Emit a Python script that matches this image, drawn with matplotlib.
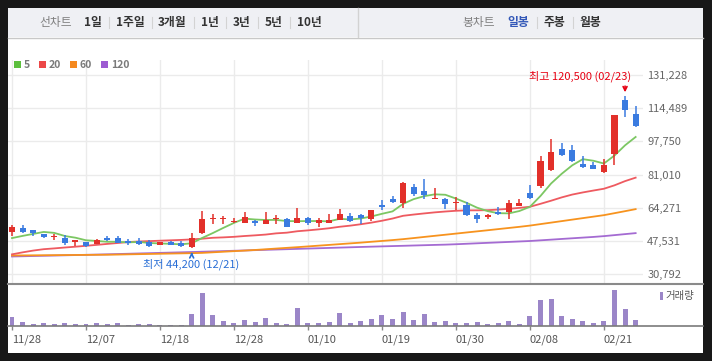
import matplotlib.pyplot as plt
import numpy as np
from matplotlib.patches import Rectangle
from matplotlib.lines import Line2D

plt.rcParams['font.family'] = ['Noto Sans CJK KR', 'DejaVu Sans']

# ── data ────────────────────────────────────────────────────────────────────
dates = ["11/28", "11/29", "11/30", "12/01", "12/04", "12/05", "12/06", "12/07",
         "12/08", "12/11", "12/12", "12/13", "12/14", "12/15", "12/18", "12/19",
         "12/20", "12/21", "12/22", "12/26", "12/27", "12/28", "01/02", "01/03",
         "01/04", "01/05", "01/08", "01/09", "01/10", "01/11", "01/12", "01/15",
         "01/16", "01/17", "01/18", "01/19", "01/22", "01/23", "01/24", "01/25",
         "01/26", "01/29", "01/30", "01/31", "02/01", "02/02", "02/05", "02/06",
         "02/07", "02/08", "02/13", "02/14", "02/15", "02/16", "02/19", "02/20",
         "02/21", "02/22", "02/23", "02/26"]

open_ = [52200, 54100, 53100, 51000, 49400, 49000, 47200, 47000, 46200, 48900,
         49000, 47700, 47400, 47200, 45500, 47000, 46700, 44700, 51700, 58400,
         58600, 57300, 56800, 57800, 56100, 58400, 58600, 56800, 59300, 56800,
         56800, 58100, 60100, 60600, 58800, 65700, 68600, 66500, 74600, 72900,
         68600, 68700, 66500, 65500, 60600, 59400, 62000, 62300, 65200, 71600,
         75300, 83300, 93900, 93400, 86400, 85900, 82500, 91400, 118600, 111600]
high = [55600, 55600, 53100, 51000, 50900, 50600, 48000, 47000, 48400, 50200,
        50000, 48400, 49000, 48000, 47000, 47500, 47400, 51700, 62700, 61300,
        60100, 59100, 62000, 58200, 62200, 60800, 59200, 64300, 59800, 59300,
        61300, 63700, 61500, 61300, 63200, 68200, 70200, 77400, 76100, 78800,
        74400, 69400, 69600, 67000, 61800, 61100, 64500, 68200, 68600, 75800,
        90400, 98900, 97100, 95900, 90200, 87500, 88700, 111100, 120500, 115600]
low = [50200, 51700, 50200, 49200, 48200, 45500, 45000, 44700, 46200, 47400,
       46400, 45700, 45700, 44600, 45500, 45300, 44700, 44200, 51200, 56100,
       56100, 56500, 56800, 55200, 56100, 55900, 54800, 56800, 55800, 54600,
       56800, 58100, 57000, 56100, 57800, 63200, 66500, 64000, 70200, 68600,
       68600, 63500, 63200, 60100, 56800, 58800, 60600, 58600, 65200, 68600,
       74400, 82900, 90200, 87200, 84200, 83900, 81700, 85900, 110200, 105200]
close = [54600, 52200, 51400, 49700, 50200, 46700, 48000, 44900, 48000, 48100,
         46700, 46400, 46200, 45200, 47000, 45700, 45200, 48900, 58600, 59300,
         58800, 57700, 59600, 56500, 58000, 59000, 54800, 59300, 56800, 58100,
         58100, 61300, 57600, 59300, 63200, 64800, 67400, 76600, 71200, 70700,
         69400, 66300, 67000, 60600, 58400, 60600, 61200, 66500, 66500, 69100,
         87900, 92600, 90900, 87900, 84700, 83900, 85600, 111100, 113600, 105700]
volume = [90, 40, 20, 30, 20, 30, 20, 20, 30, 20, 30, 10, 20, 20, 10, 10, 10, 120,
          330, 110, 50, 30, 60, 40, 80, 30, 20, 180, 30, 30, 40, 130, 30, 50, 70,
          110, 70, 140, 60, 120, 40, 50, 30, 30, 40, 20, 30, 50, 20, 100, 260, 270,
          100, 70, 50, 30, 50, 360, 170, 60]

# moving-average values before the window holds enough days
ma5_head = [49000, 50100, 51100, 52100]
ma20_head = [40800, 41800, 42700, 43400, 43800, 44250, 44660, 45110, 45570, 46060,
             46520, 46980, 47280, 47480, 47680, 47880, 48080, 48330, 48690]
ma60 = [40220, 40260, 40310, 40350, 40390, 40440, 40480, 40520, 40570, 40610,
        40690, 40800, 40900, 41000, 41100, 41200, 41300, 41400, 41540, 41830,
        42120, 42410, 42690, 43010, 43360, 43720, 44070, 44420, 44800, 45180,
        45560, 45950, 46330, 46710, 47140, 47560, 47990, 48460, 49010, 49580,
        50140, 50700, 51260, 51830, 52390, 52950, 53530, 54100, 54670, 55300,
        56050, 56800, 57550, 58310, 59060, 59810, 60560, 61560, 62570, 63600]
ma120 = [39720, 39840, 39960, 40080, 40200, 40320, 40440, 40560, 40680, 40820,
         40960, 41100, 41250, 41390, 41540, 41680, 41820, 41970, 42120, 42280,
         42440, 42600, 42760, 42920, 43080, 43240, 43400, 43560, 43720, 43880,
         44040, 44200, 44360, 44520, 44670, 44820, 44970, 45110, 45260, 45410,
         45560, 45700, 45900, 46130, 46370, 46600, 46830, 47060, 47300, 47530,
         47870, 48210, 48560, 48900, 49240, 49580, 49990, 50490, 51000, 51500]

price_ticks = [30792, 47531, 64271, 81010, 97750, 114489, 131228]

left_menu = ["1일", "1주일", "3개월", "1년", "3년", "5년", "10년"]
right_menu = ["일봉", "주봉", "월봉"]

# ── derived ─────────────────────────────────────────────────────────────────
o = np.array(open_)
h = np.array(high)
l = np.array(low)
c = np.array(close)
idx = np.arange(len(c))
ma5 = np.r_[ma5_head, np.convolve(c, np.ones(5) / 5, "valid")]
ma20 = np.r_[ma20_head, np.convolve(c, np.ones(20) / 20, "valid")]
tick_idx = idx[::7]

RED = "#e2302a"
BLUE = "#3a7be0"

W, H = 712, 361
def fx(x): return x / W
def fy(y): return 1 - y / H

fig = plt.figure(figsize=(W / 100, H / 100), dpi=100, facecolor="#181818")
fig.add_artist(Rectangle((fx(8), fy(353)), fx(695), 345 / H, transform=fig.transFigure,
                         facecolor="white", edgecolor="none", zorder=0))

# ── header bar ──────────────────────────────────────────────────────────────
fig.add_artist(Rectangle((fx(8), fy(37)), fx(695), 29 / H, transform=fig.transFigure,
                         facecolor="#eff0f4", edgecolor="none", zorder=1))
fig.add_artist(Line2D([fx(8), fx(703)], [fy(37.5), fy(37.5)], color="#c8c8c8", lw=1,
                      transform=fig.transFigure, zorder=2))
fig.add_artist(Line2D([fx(357.5), fx(357.5)], [fy(8), fy(37)], color="#d2d2d2", lw=1,
                      transform=fig.transFigure, zorder=2))

ty = fy(22.5)
fig.text(fx(56), ty, "선차트", ha="center", va="center", fontsize=8.5, color="#808080")
for lbl, x in zip(left_menu, [92.5, 130, 172.5, 209.5, 241.5, 274, 309]):
    fig.text(fx(x), ty, lbl, ha="center", va="center", fontsize=8.5,
             fontweight="bold", color="#333333")
for x in [108.5, 151.5, 193.5, 225.5, 257.5, 289.5, 536.5, 572.5]:
    fig.add_artist(Line2D([fx(x), fx(x)], [fy(17), fy(28)], color="#d3d3d3", lw=0.8,
                          transform=fig.transFigure, zorder=2))
fig.text(fx(478.5), ty, "봉차트", ha="center", va="center", fontsize=8.5, color="#808080")
for lbl, x, col in zip(right_menu, [518.5, 554.5, 590.5], ["#3358b8", "#333333", "#333333"]):
    fig.text(fx(x), ty, lbl, ha="center", va="center", fontsize=8.5,
             fontweight="bold", color=col)

# ── MA legend ───────────────────────────────────────────────────────────────
for lbl, x0, col in zip(["5", "20", "60", "120"], [14, 39, 70, 101],
                        ["#5cbf3d", "#ec4848", "#f5891f", "#9d5bd2"]):
    fig.add_artist(Rectangle((fx(x0), fy(68)), 7 / W, 7 / H, transform=fig.transFigure,
                             facecolor=col, edgecolor="none", zorder=3))
    fig.text(fx(x0 + 10), fy(64.5), lbl, ha="left", va="center", fontsize=7.5,
             fontweight="bold", color="#7a7a7a")

# ── price panel ─────────────────────────────────────────────────────────────
ax = fig.add_axes([fx(8), fy(283), fx(635), 223 / H])
ax.set_facecolor("none")
ax.set_xlim(-0.3784, 59.697)
ax.set_ylim(26354, 138791)

ax.plot(idx, ma120, color="#a46bd2", lw=1.3, zorder=2)
ax.plot(idx, ma60, color="#f7931e", lw=1.3, zorder=2)
ax.plot(idx, ma20, color="#ee5a60", lw=1.3, zorder=2)
ax.plot(idx, ma5, color="#7cc763", lw=1.3, zorder=2)

colors = np.where(c >= o, RED, BLUE)
ax.vlines(idx, l, h, colors=colors, lw=1.1, zorder=3)
body = np.maximum(np.abs(c - o), 550)
ax.bar(idx, body, bottom=np.minimum(o, c), width=0.57, color=colors, zorder=4)

ax.set_xticks(tick_idx)
ax.set_yticks(price_ticks)
ax.set_yticklabels([f"{v:,}" for v in price_ticks])
ax.yaxis.tick_right()
ax.tick_params(axis="y", length=0, pad=3, labelsize=8, labelcolor="#666666")
ax.tick_params(axis="x", length=0, labelbottom=False)
ax.grid(True, color="#ebebeb", lw=1)
ax.set_axisbelow(True)
for s in ax.spines.values():
    s.set_visible(False)

# highest / lowest markers
i_hi = int(np.argmax(h))
i_lo = int(np.argmin(l))
ax.annotate("", xy=(i_hi, 121100), xytext=(i_hi, 127000),
            arrowprops=dict(arrowstyle="->", color="#e60012", lw=1.2, mutation_scale=7))
ax.text(i_hi + 0.53, 130700, f"최고 {h[i_hi]:,} ({dates[i_hi]})", ha="right", va="center",
        fontsize=8, color="#e60012")
ax.annotate("", xy=(i_lo, 43300), xytext=(i_lo, 39300),
            arrowprops=dict(arrowstyle="->", color="#2a6fd6", lw=1.2, mutation_scale=7))
ax.text(12.39, 35900, f"최저 {l[i_lo]:,} ({dates[i_lo]})", ha="left", va="center",
        fontsize=8, color="#2a6fd6")

# panel separator
fig.add_artist(Line2D([fx(8), fx(703)], [fy(283.5), fy(283.5)], color="#8a8a8a", lw=1.5,
                      transform=fig.transFigure, zorder=5))

# ── volume panel ────────────────────────────────────────────────────────────
ax2 = fig.add_axes([fx(8), fy(326), fx(695), 42 / H])
ax2.set_facecolor("none")
ax2.set_xlim(-0.3784, 65.375)
ax2.set_ylim(0, 420)
ax2.bar(idx, volume, width=0.47, color="#9b86c8", zorder=2)
ax2.set_xticks(tick_idx)
ax2.set_xticklabels([dates[i] for i in tick_idx], ha="left")
ax2.tick_params(axis="x", length=3, width=1, color="#888888", pad=3,
                labelsize=8, labelcolor="#555555")
ax2.set_yticks([])
for name, s in ax2.spines.items():
    s.set_visible(name == "bottom")
ax2.spines["bottom"].set_color("#7a7a7a")
ax2.spines["bottom"].set_linewidth(1.2)

fig.add_artist(Rectangle((fx(660), fy(299.5)), 3 / W, 7.5 / H, transform=fig.transFigure,
                         facecolor="#9b86c8", edgecolor="none", zorder=3))
fig.text(fx(665), fy(296), "거래량", ha="left", va="center", fontsize=7.5, color="#555555")

fig.savefig("out.png", dpi=100, facecolor=fig.get_facecolor())
